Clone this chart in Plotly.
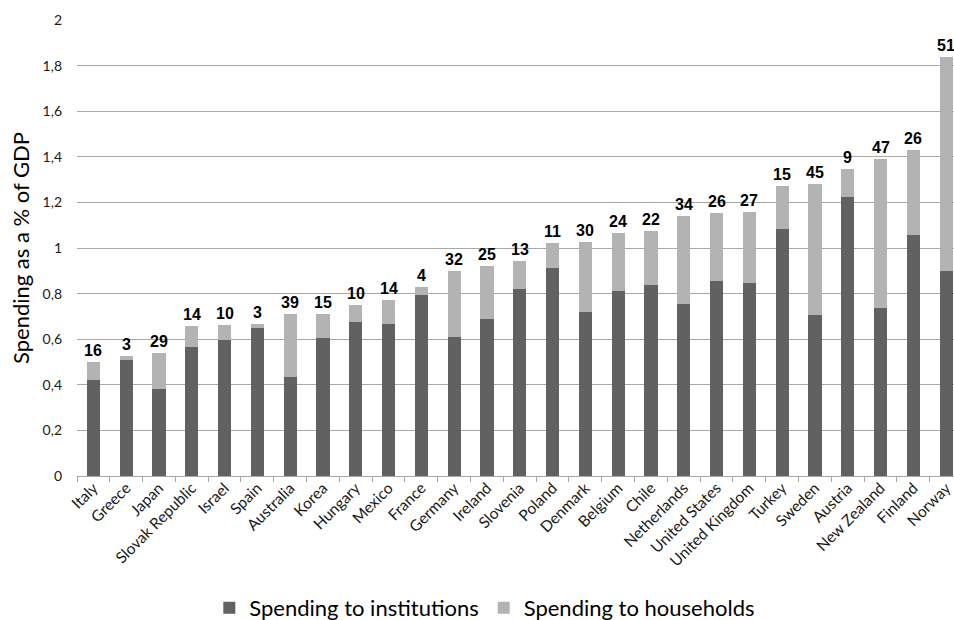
import plotly.graph_objects as go

# Countries, ordered by total spending
countries = [
    "Italy", "Greece", "Japan", "Slovak Republic", "Israel", "Spain", "Australia",
    "Korea", "Hungary", "Mexico", "France", "Germany", "Ireland", "Slovenia",
    "Poland", "Denmark", "Belgium", "Chile", "Netherlands", "United States",
    "United Kingdom", "Turkey", "Sweden", "Austria", "New Zealand", "Finland", "Norway",
]

# Total spending (% of GDP)
total_spending = [
    0.50, 0.525, 0.54, 0.657, 0.661, 0.667, 0.71,
    0.71, 0.749, 0.773, 0.828, 0.898, 0.919, 0.945,
    1.023, 1.027, 1.065, 1.075, 1.14, 1.153,
    1.159, 1.274, 1.28, 1.347, 1.391, 1.431, 1.837,
]

# Share of the total that goes to households (%), printed above each bar
household_share = [
    16, 3, 29, 14, 10, 3, 39,
    15, 10, 14, 4, 32, 25, 13,
    11, 30, 24, 22, 34, 26,
    27, 15, 45, 9, 47, 26, 51,
]

to_households = [t * s / 100 for t, s in zip(total_spending, household_share)]
to_institutions = [t - h for t, h in zip(total_spending, to_households)]

DARK = "#616161"
LIGHT = "#b3b3b3"
TEXT = "#1a1a1a"
GRID = "#a8a8a8"

fig = go.Figure()
fig.add_trace(go.Bar(
    x=countries, y=to_institutions, name="Spending to institutions",
    marker=dict(color=DARK, line=dict(width=0)), width=0.4,
))
fig.add_trace(go.Bar(
    x=countries, y=to_households, name="Spending to households",
    marker=dict(color=LIGHT, line=dict(width=0)), width=0.4,
))

for c, t, s in zip(countries, total_spending, household_share):
    fig.add_annotation(
        x=c, y=t, text=f"<b>{s}</b>", showarrow=False,
        yanchor="bottom", yshift=1,
        font=dict(family="Liberation Sans, Arial", size=16, color="#000000"),
    )

fig.add_annotation(
    xref="paper", yref="paper", x=(20 - 77) / 877, y=0.5,
    text="Spending as a % of GDP", textangle=-90, showarrow=False,
    xanchor="center", yanchor="middle",
    font=dict(family="Lato", size=22, color="#000000"),
)

fig.update_layout(
    width=954, height=620,
    margin=dict(l=77, r=0, t=20, b=144, autoexpand=False),
    barmode="stack",
    separators=", ",
    paper_bgcolor="white", plot_bgcolor="white",
    font=dict(family="Lato", color=TEXT),
    showlegend=True,
    legend=dict(
        orientation="h", x=0.465, xanchor="center",
        y=(476 - 608) / 456, yanchor="middle",
        font=dict(family="Lato", size=22, color="#000000"),
        traceorder="normal", itemwidth=30,
    ),
    xaxis=dict(
        range=[-0.5, 26.24], tickangle=-45,
        tickfont=dict(family="Lato", size=15.5, color=TEXT),
        ticks="outside", tickson="boundaries", ticklen=5, tickcolor=GRID,
        showline=True, linecolor=GRID, linewidth=1,
        showgrid=False, fixedrange=True,
        ticklabelstandoff=-4,
    ),
    yaxis=dict(
        range=[0, 2], dtick=0.2, tick0=0,
        tickfont=dict(family="Lato", size=14, color=TEXT),
        showgrid=True, gridcolor=GRID, gridwidth=1,
        zeroline=False, showline=False, ticks="",
        ticklabelstandoff=14,
    ),
)

fig.write_html("out.html")
